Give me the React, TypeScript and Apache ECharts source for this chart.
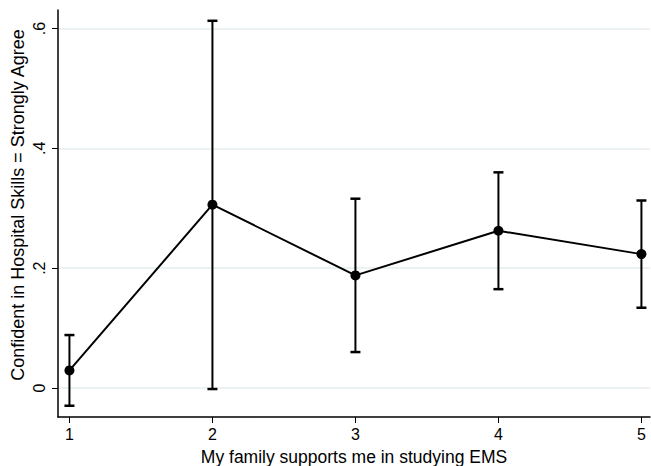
import React, { useEffect, useRef } from "react";
import * as echarts from "echarts";

const categories = [1, 2, 3, 4, 5];
const means = [0.0294, 0.306, 0.188, 0.2625, 0.2235];
const lower = [-0.0296, -0.0017, 0.06, 0.165, 0.134];
const upper = [0.0884, 0.613, 0.316, 0.36, 0.313];
const yTicks = [0, 0.2, 0.4, 0.6];
const xTitle = "My family supports me in studying EMS";
const yTitle = "Confident in Hospital Skills = Strongly Agree";

const FONT = "'Liberation Sans', Arial, Helvetica, sans-serif";

export default function App() {
  const ref = useRef<HTMLDivElement>(null);
  useEffect(() => {
    if (!ref.current) return;
    const chart = echarts.init(ref.current, null, { renderer: "svg" });
    const option: any = {
      animation: false,
      backgroundColor: "#ffffff",
      textStyle: { fontFamily: FONT, color: "#000" },
      grid: { left: 58, right: 1, top: 10, bottom: 49, containLabel: false, outerBoundsMode: "none" },
      graphic: [
        {
          type: "text",
          x: 18,
          y: 205,
          rotation: Math.PI / 2,
          style: {
            text: yTitle,
            fontFamily: FONT,
            fontSize: 18,
            fill: "#000",
            align: "center",
            verticalAlign: "middle",
          },
        },
      ],
      xAxis: {
        type: "value",
        min: 0.92,
        max: 5.06,
        name: xTitle,
        nameLocation: "middle",
        nameGap: 31,
        nameTextStyle: { fontFamily: FONT, fontSize: 17.5, color: "#000" },
        axisLine: { show: true, onZero: false, lineStyle: { color: "#000", width: 1.5 } },
        axisTick: { show: true, length: 6, lineStyle: { color: "#000", width: 1 }, customValues: categories },
        axisLabel: { customValues: categories, fontFamily: FONT, fontSize: 16, color: "#000", margin: 9, formatter: (v: number) => String(v) },
        splitLine: { show: false },
      },
      yAxis: {
        type: "value",
        min: -0.0484,
        max: 0.631,
        axisLine: { show: true, onZero: false, lineStyle: { color: "#000", width: 1.5 } },
        axisTick: { show: true, length: 6, lineStyle: { color: "#000", width: 1 }, customValues: yTicks },
        axisLabel: {
          customValues: yTicks,
          rotate: 90,
          fontFamily: FONT,
          fontSize: 16,
          color: "#000",
          margin: 11,
          formatter: (v: number) => (v === 0 ? "0" : String(Math.round(v * 10) / 10).replace("0.", ".")),
        },
        splitLine: { show: false },
      },
      series: [
        {
          type: "custom",
          z: 2,
          data: categories.map((c, i) => [c, lower[i], upper[i]]),
          renderItem: (params: any, api: any) => {
            const x = api.value(0);
            const lo = api.coord([x, api.value(1)]);
            const hi = api.coord([x, api.value(2)]);
            const hw = 5;
            const st = { stroke: "#000", lineWidth: 2, fill: null };
            return {
              type: "group",
              children: [
                { type: "line", shape: { x1: lo[0], y1: lo[1], x2: hi[0], y2: hi[1] }, style: st },
                { type: "line", shape: { x1: lo[0] - hw, y1: lo[1], x2: lo[0] + hw, y2: lo[1] }, style: { ...st, lineWidth: 2.5 } },
                { type: "line", shape: { x1: hi[0] - hw, y1: hi[1], x2: hi[0] + hw, y2: hi[1] }, style: { ...st, lineWidth: 2.5 } },
              ],
            };
          },
        },
        {
          type: "line",
          z: 3,
          data: categories.map((c, i) => [c, means[i]]),
          symbol: "circle",
          symbolSize: 10,
          itemStyle: { color: "#000" },
          lineStyle: { color: "#000", width: 2 },
          markLine: {
            silent: true,
            symbol: ["none", "none"],
            label: { show: false },
            z: 0,
            lineStyle: { color: "#e6eef0", width: 1.5, type: "solid" },
            data: yTicks.map((t) => ({ yAxis: t })),
          },
        },
      ],
    };
    chart.setOption(option);
    return () => chart.dispose();
  }, []);
  return <div ref={ref} style={{ width: 651, height: 466, position: "absolute", left: 0, top: 0 }} />;
}
